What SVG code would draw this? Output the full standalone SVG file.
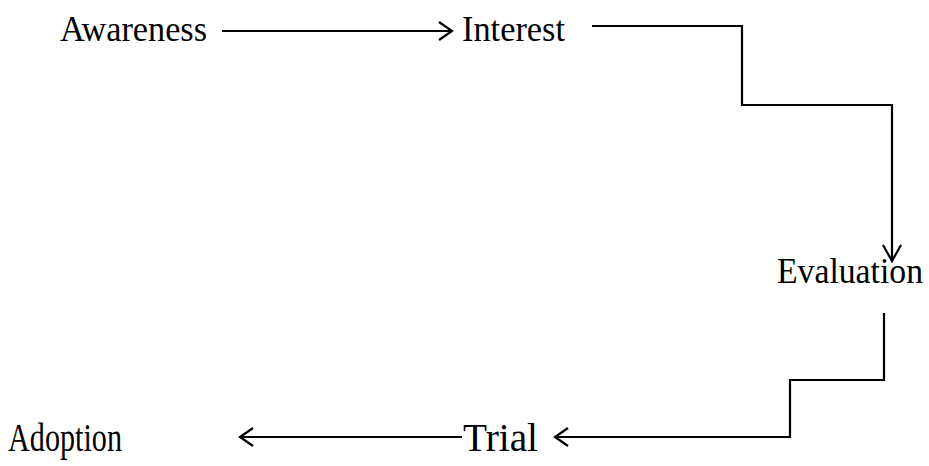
<svg xmlns="http://www.w3.org/2000/svg" width="929" height="466" viewBox="0 0 929 466">
<defs>
<style>
.t{font-family:"Liberation Serif","Times New Roman",serif;font-size:35px;fill:#000}
.b{font-size:39px}
.c{fill:none;stroke:#000;stroke-width:2.2}
.h{fill:none;stroke:#000;stroke-width:2.2}
</style>
</defs>
<rect width="929" height="466" fill="#fff"/>
<g id="awareness"><text class="t" x="60" y="41" textLength="147" lengthAdjust="spacingAndGlyphs">Awareness</text></g>
<g id="interest"><text class="t" x="462" y="41" textLength="103" lengthAdjust="spacingAndGlyphs">Interest</text></g>
<g id="evaluation"><text class="t" x="777" y="283" textLength="146" lengthAdjust="spacingAndGlyphs">Evaluation</text></g>
<g id="trial"><text class="t b" x="463" y="451" textLength="75" lengthAdjust="spacingAndGlyphs">Trial</text></g>
<g id="adoption"><text class="t b" x="8" y="451" textLength="114" lengthAdjust="spacingAndGlyphs">Adoption</text></g>
<g id="connectors">
<path class="c" d="M222,31 H452"/>
<path class="h" d="M439,22 L452,31 L439,40"/>
<path class="c" d="M592,26 H742 V105 H892 V261"/>
<path class="h" d="M883,245 L892,261 L901,245"/>
<path class="c" d="M884,313 V380 H790 V437 H555"/>
<path class="h" d="M568,428 L555,437 L568,446"/>
<path class="c" d="M462,437 H240"/>
<path class="h" d="M253,428 L240,437 L253,446"/>
</g>
</svg>
